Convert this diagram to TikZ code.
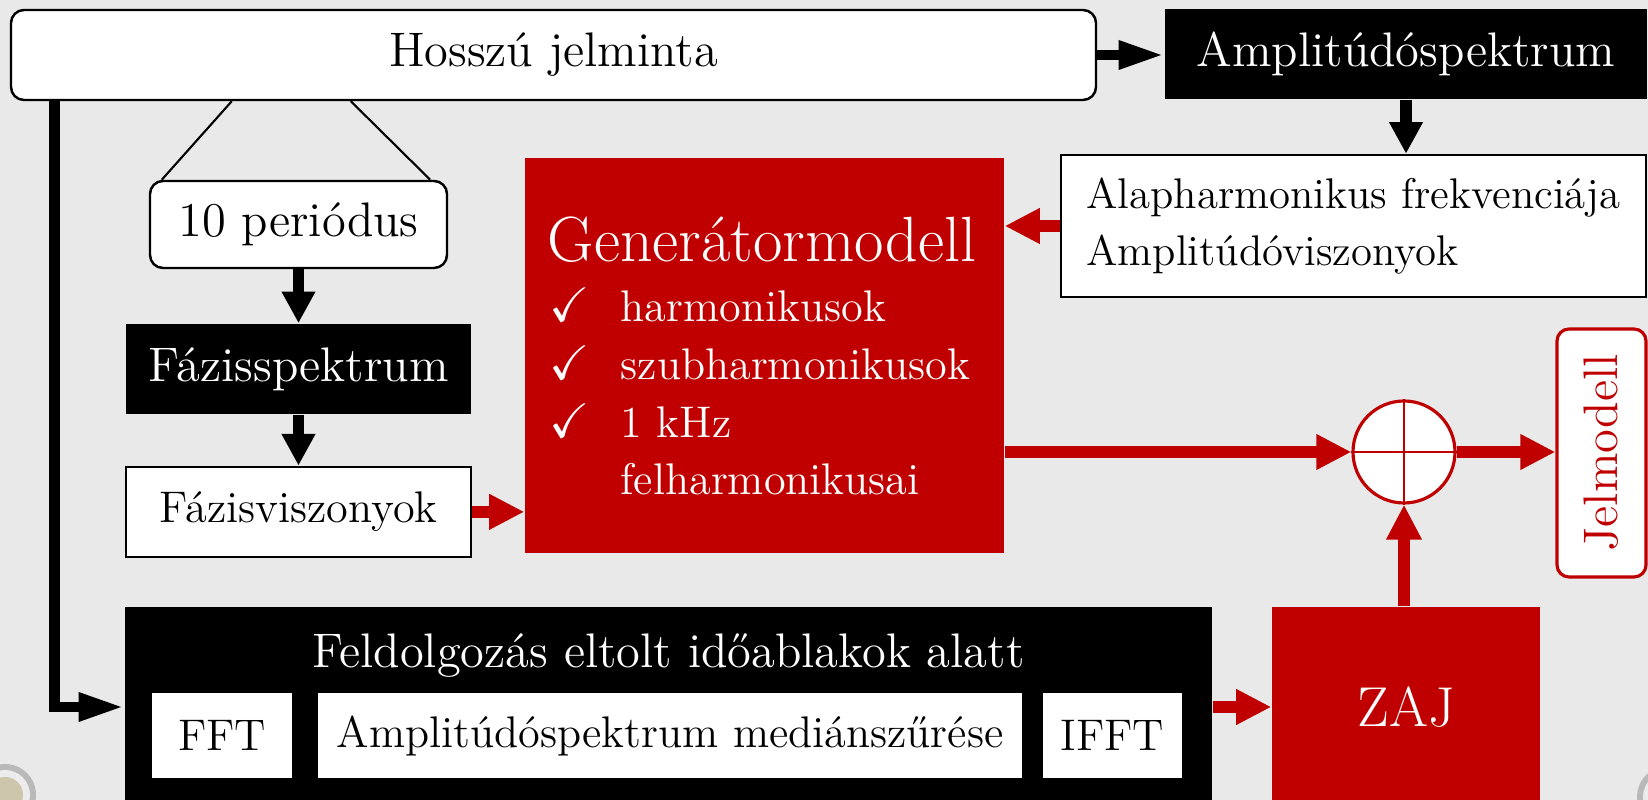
\documentclass[tikz,border=0pt]{standalone}
\usepackage{amssymb}
\usepackage[dvipsnames]{xcolor}
\usetikzlibrary{arrows.meta,calc,positioning}
\definecolor{genred}{RGB}{192,0,0}
\definecolor{slidegray}{RGB}{233,233,233}
\definecolor{rivet}{RGB}{205,198,172}
\newcommand{\szbig}{\fontsize{13.8pt}{16.5pt}\selectfont}
\newcommand{\szmid}{\fontsize{12.6pt}{16.2pt}\selectfont}
\newcommand{\szalap}{\fontsize{12.2pt}{16.2pt}\selectfont}
\newcommand{\szgen}{\fontsize{18.2pt}{21pt}\selectfont}
\newcommand{\szzaj}{\fontsize{16pt}{19pt}\selectfont}
\tikzset{box/.style={draw,line width=0.7pt,fill=white,inner sep=0pt,align=center,font=\szbig},
  rbox/.style={box,rounded corners=0.13cm},
  dark/.style={fill=black,text=white,inner sep=0pt,font=\szbig},
  redbox/.style={fill=genred,text=white,inner sep=0pt},
  gentxt/.style={anchor=base west,text=white,inner sep=0pt,font=\szmid},
  arr/.style={line width=3.3pt,-{Triangle[length=9pt,width=9pt]}},
  longarr/.style={line width=3pt,-{Triangle[length=13pt,width=7.5pt]}},
  rarr/.style={line width=3.3pt,-{Triangle[length=10pt,width=9.5pt]},color=genred}}

\begin{document}
\begin{tikzpicture}
\clip (0,0) rectangle (16.48,8);
\fill[slidegray] (0,0) rectangle (16.48,8);
\foreach \cx/\cy in {0.05/0.05,16.68/0.03}{
  \fill[gray!55] (\cx,\cy) circle (0.31);
  \fill[gray!15] (\cx,\cy) circle (0.25);
  \fill[rivet] (\cx,\cy) circle (0.18);}

% top row
\node[rbox,minimum width=10.85cm,minimum height=0.9cm] (hossz) at (5.535,7.45) {Hosszú jelminta};
\node[dark,minimum width=4.82cm,minimum height=0.9cm] (ampl) at (14.06,7.46) {Amplitúdóspektrum};
\node[box,font=\szalap,align=left,minimum width=5.85cm,minimum height=1.42cm] (alap) at (13.535,5.74) {Alapharmonikus frekvenciája\\Amplitúdóviszonyok};

% phase branch
\node[rbox,minimum width=2.97cm,minimum height=0.87cm] (per) at (2.985,5.755) {10 periódus};
\node[dark,minimum width=3.45cm,minimum height=0.9cm,below=0.54cm of per] (fspek) {Fázisspektrum};
\node[box,font=\szmid,minimum width=3.45cm,minimum height=0.9cm,below=0.51cm of fspek] (fvisz) {Fázisviszonyok};

% generator model
\node[redbox,minimum width=4.79cm,minimum height=3.95cm] (gen) at (7.645,4.445) {};
\node[gentxt,font=\szgen] (gentitle) at (5.47,5.38) {Generátormodell};
\foreach \y/\t [count=\i] in {4.78/harmonikusok,4.20/szubharmonikusok,3.62/1 kHz}{
  \node[gentxt,font=\szbig] (chk\i) at (5.49,\y) {$\checkmark$};
  \node[gentxt] (item\i) at (6.20,\y) {\t};}
\node[gentxt] (item4) at (6.20,3.05) {felharmonikusai};

% summation and output
\node[circle,draw=genred,line width=0.9pt,fill=white,minimum size=1.02cm,inner sep=0pt] (sum) at (14.04,3.48) {};
\draw[genred,line width=0.6pt] (sum.north) -- (sum.south) (sum.west) -- (sum.east);
\node[draw=genred,line width=0.9pt,fill=white,rounded corners=0.12cm,rotate=90,minimum width=2.48cm,minimum height=0.89cm,inner sep=0pt,text=genred,font=\szbig] (jel) at (16.015,3.47) {Jelmodell};

% noise branch
\node[dark,minimum width=10.87cm,minimum height=2.0cm] (feld) at (6.685,0.93) {};
\node[anchor=base,text=white,font=\szbig] (feldtitle) at ([yshift=-0.61cm]feld.north) {Feldolgozás eltolt időablakok alatt};
\foreach \n/\x/\w/\t in {fft/2.22/1.40/FFT,med/6.70/7.04/Amplitúdóspektrum mediánszűrése,ifft/11.125/1.39/IFFT}
  \node[fill=white,inner sep=0pt,minimum width=\w cm,minimum height=0.85cm,font=\szmid] (\n) at (\x,0.645) {\t};
\node[redbox,font=\szzaj,minimum width=2.68cm,minimum height=2.0cm] (zaj) at (14.06,0.93) {ZAJ};

% connectors
\draw[line width=0.6pt] ([xshift=2.22cm]hossz.south west) -- ([xshift=0.13cm]per.north west)
  ([xshift=3.41cm]hossz.south west) -- ([xshift=-0.18cm]per.north east);
\draw[longarr] (hossz.east) -- (hossz.east -| ampl.west);
\draw[longarr] ([xshift=0.45cm]hossz.south west) |- (feld.west);
\draw[arr] (ampl.south) -- (ampl.south |- alap.north);
\draw[arr] (per.south) -- (per.south |- fspek.north);
\draw[arr] (fspek.south) -- (fvisz.north);
\draw[rarr] (alap.west) -- (alap.west -| gen.east);
\draw[rarr] (fvisz.east) -- (fvisz.east -| gen.west);
\draw[rarr] (gen.east |- sum.west) -- (sum.west);
\draw[rarr] (sum.east) -- (sum.east -| jel.north);
\draw[rarr] (zaj.north -| sum.south) -- (sum.south);
\draw[rarr] (feld.east) -- (zaj.west);
\end{tikzpicture}
\end{document}
